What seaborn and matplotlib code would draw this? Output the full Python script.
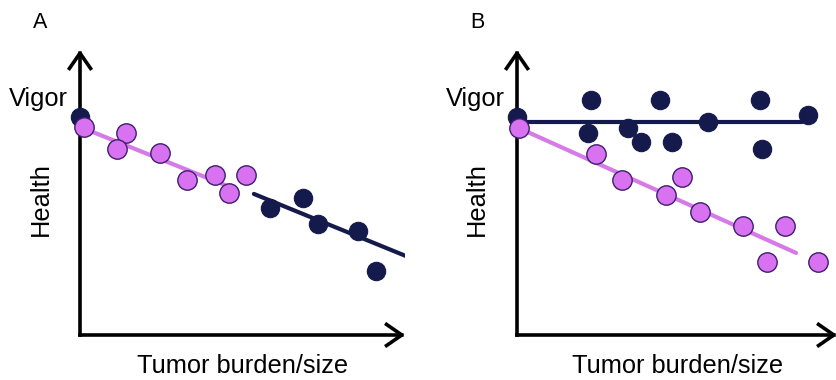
import matplotlib
matplotlib.use("Agg")
import matplotlib.pyplot as plt
import seaborn as sns
import numpy as np

sns.set_theme(style="white")
plt.rcParams['font.family'] = ['Liberation Sans', 'DejaVu Sans']
plt.rcParams['text.color'] = 'black'

# ---- data (arbitrary units) ----
# Panel A
a_pink_x = [0.12, 1.42, 1.14, 2.46, 3.29, 4.15, 4.58, 5.11]
a_pink_y = [7.30, 7.09, 6.53, 6.39, 5.44, 5.61, 4.98, 5.61]
a_navy_x = [0.0, 5.85, 6.86, 7.32, 8.55, 9.11]
a_navy_y = [7.65, 4.46, 4.81, 3.89, 3.65, 2.25]
a_pink_fit_x = [0.09, 4.62]
a_pink_fit_y = [7.26, 5.19]
a_navy_fit_x = [5.35, 10.03]
a_navy_fit_y = [4.95, 2.77]

# Panel B
b_navy_x = [0.0, 2.31, 2.22, 4.47, 3.47, 3.88, 4.84, 5.97, 7.59, 7.66, 9.09]
b_navy_y = [7.65, 8.25, 7.09, 8.25, 7.26, 6.77, 6.77, 7.47, 8.25, 6.53, 7.72]
b_pink_x = [0.06, 2.47, 3.28, 5.16, 4.66, 5.72, 7.06, 8.38, 7.81, 9.41]
b_pink_y = [7.26, 6.35, 5.44, 5.54, 4.91, 4.32, 3.82, 3.82, 2.56, 2.56]
b_navy_fit_x = [0.0, 8.91]
b_navy_fit_y = [7.47, 7.47]
b_pink_fit_x = [0.06, 8.72]
b_pink_fit_y = [7.26, 2.88]

panel_labels = ["A", "B"]
y_tick_label = "Vigor"
y_label = "Health"
x_label = "Tumor burden/size"

NAVY = "#151a4c"
PINK = "#d872f0"
PINK_EDGE = "#3d1f6e"
PINK_LINE = "#d67ae8"

W, H = 837, 380
fig = plt.figure(figsize=(W / 100, H / 100), dpi=100)

def fx(px):
    return px / W

def fy(py):
    return 1 - py / H

axes_px = [(80, 405), (517, 837)]
axes = []
for (x0, x1) in axes_px:
    ax = fig.add_axes([fx(x0), fy(335), (x1 - x0) / W, 285 / H])
    ax.set_xlim(0, 10)
    ax.set_ylim(0, 10)
    for s in ax.spines.values():
        s.set_visible(False)
    ax.set_xticks([])
    ax.set_yticks([])
    ax.patch.set_alpha(0)
    arrow_kw = dict(arrowstyle="->,head_length=0.55,head_width=0.38",
                    lw=2.6, color="black", mutation_scale=20,
                    shrinkA=0, shrinkB=0, capstyle="projecting")
    ax.annotate("", xy=(0, 1), xytext=(0, 0), xycoords="axes fraction",
                textcoords="axes fraction", arrowprops=arrow_kw, annotation_clip=False)
    ax.annotate("", xy=(1, 0), xytext=(0, 0), xycoords="axes fraction",
                textcoords="axes fraction", arrowprops=arrow_kw, annotation_clip=False)
    axes.append(ax)

def draw(ax, nx, ny, nfx, nfy, px_, py_, pfx, pfy):
    sns.lineplot(x=nfx, y=nfy, ax=ax, color=NAVY, lw=3.0, sort=False,
                 estimator=None, zorder=2)
    sns.scatterplot(x=nx, y=ny, ax=ax, color=NAVY, s=175, edgecolor=NAVY,
                    linewidth=0.8, zorder=3, clip_on=False)
    sns.lineplot(x=pfx, y=pfy, ax=ax, color=PINK_LINE, lw=3.0, sort=False,
                 estimator=None, zorder=4)
    sns.scatterplot(x=px_, y=py_, ax=ax, color=PINK, s=195, edgecolor=PINK_EDGE,
                    linewidth=1.0, zorder=5, clip_on=False)
    ax.set_xlim(0, 10)
    ax.set_ylim(0, 10)
    ax.set_xlabel("")
    ax.set_ylabel("")

draw(axes[0], a_navy_x, a_navy_y, a_navy_fit_x, a_navy_fit_y,
     a_pink_x, a_pink_y, a_pink_fit_x, a_pink_fit_y)
draw(axes[1], b_navy_x, b_navy_y, b_navy_fit_x, b_navy_fit_y,
     b_pink_x, b_pink_y, b_pink_fit_x, b_pink_fit_y)

# texts
FS = 18.3
fig.text(fx(40), fy(22), panel_labels[0], fontsize=15.5, ha="center", va="center")
fig.text(fx(477), fy(22), panel_labels[1], fontsize=15.5, ha="center", va="center")
fig.text(fx(68), fy(99), y_tick_label, fontsize=FS, ha="right", va="center")
fig.text(fx(505), fy(99), y_tick_label, fontsize=FS, ha="right", va="center")
fig.text(fx(41), fy(199), y_label, fontsize=FS, ha="center", va="center", rotation=90)
fig.text(fx(477), fy(199), y_label, fontsize=FS, ha="center", va="center", rotation=90)
fig.text(fx(243), fy(366), x_label, fontsize=FS, ha="center", va="center")
fig.text(fx(678), fy(366), x_label, fontsize=FS, ha="center", va="center")

fig.savefig("out.png", dpi=100)
